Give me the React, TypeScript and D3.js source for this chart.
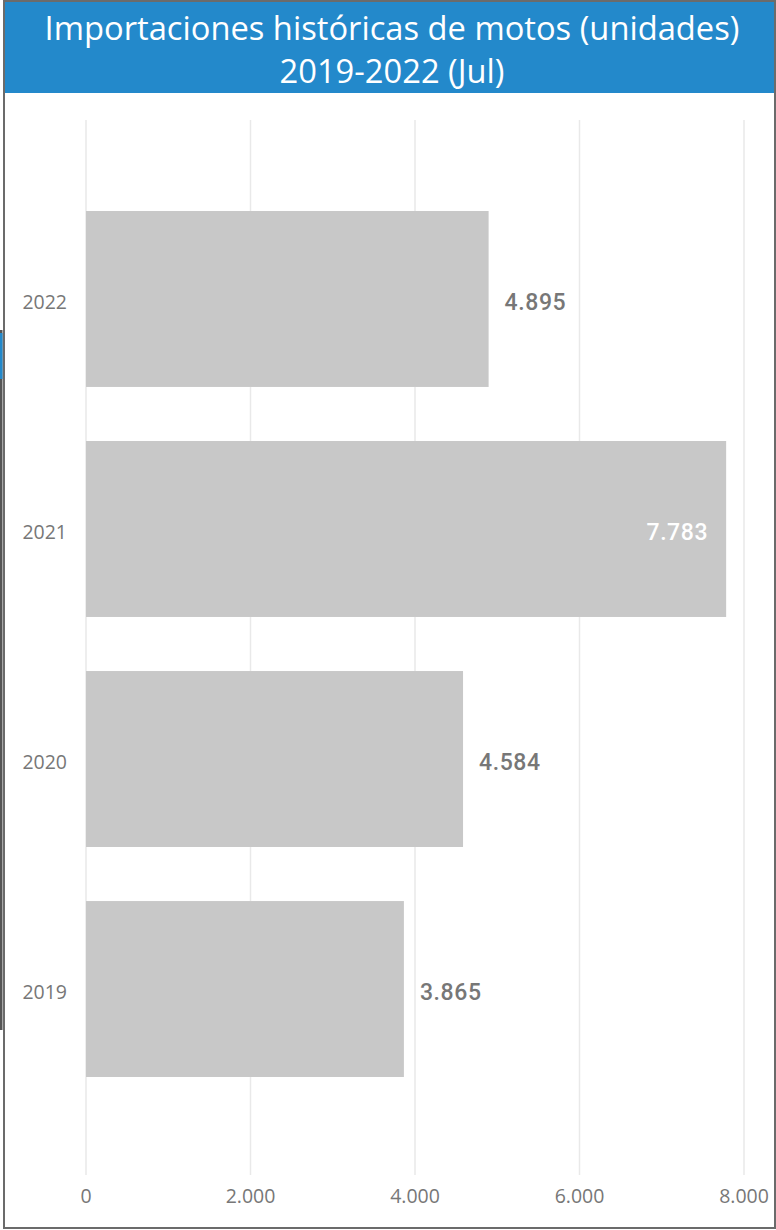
import * as d3 from "d3";
import { useRef, useEffect } from "react";

const years = ["2022", "2021", "2020", "2019"];
const units = [4895, 7783, 4584, 3865];
const xTicks = [0, 2000, 4000, 6000, 8000];
const titleLines = ["Importaciones históricas de motos (unidades)", "2019-2022 (Jul)"];

const fmt = (n: number) => d3.format(",")(n).replace(/,/g, ".");

export default function App() {
  const svgRef = useRef<SVGSVGElement | null>(null);

  useEffect(() => {
    const svg = d3.select(svgRef.current);
    svg.selectAll("*").remove();

    const W = 776;
    const H = 1230;
    const blue = "#2389cb";
    const frame = "#6b6b6b";

    svg.attr("viewBox", `0 0 ${W} ${H}`);

    svg.append("rect").attr("width", W).attr("height", H).attr("fill", "white");

    // header
    svg.append("rect")
      .attr("x", 4).attr("y", 2)
      .attr("width", W - 4).attr("height", 91)
      .attr("fill", blue);

    svg.append("g")
      .attr("text-anchor", "middle")
      .attr("fill", "white")
      .attr("font-family", "'Segoe UI', 'Open Sans', sans-serif")
      .attr("font-weight", 400)
      .attr("font-size", 32.7)
      .selectAll("text")
      .data(titleLines)
      .join("text")
      .attr("x", 392)
      .attr("y", (_, i) => 40 + i * 43)
      .text(d => d);

    // frame
    svg.append("path")
      .attr("d", `M4,1 H775 V1228 H4 Z`)
      .attr("fill", "none")
      .attr("stroke", frame)
      .attr("stroke-width", 2);
    svg.append("rect").attr("x", 0).attr("y", 330).attr("width", 2.5).attr("height", 700).attr("fill", "#555");
    svg.append("rect").attr("x", 0).attr("y", 333).attr("width", 2.5).attr("height", 46).attr("fill", blue);

    const x = d3.scaleLinear().domain([0, 8000]).range([86, 744]);
    const y = d3.scaleBand<string>()
      .domain(years)
      .range([116, 1172])
      .paddingInner(0.235)
      .paddingOuter(0.413);

    // gridlines
    svg.append("g")
      .selectAll("line")
      .data(xTicks)
      .join("line")
      .attr("x1", d => x(d)).attr("x2", d => x(d))
      .attr("y1", 120).attr("y2", 1175)
      .attr("stroke", "#e9e9e9")
      .attr("stroke-width", 1.5);

    svg.append("g")
      .attr("font-family", "'Segoe UI', 'Open Sans', sans-serif")
      .attr("font-size", 19.5)
      .attr("fill", "#777")
      .attr("text-anchor", "middle")
      .selectAll("text")
      .data(xTicks)
      .join("text")
      .attr("x", d => x(d))
      .attr("y", 1203)
      .text(d => fmt(d));

    // year labels
    svg.append("g")
      .attr("font-family", "'Segoe UI', 'Open Sans', sans-serif")
      .attr("font-size", 19.5)
      .attr("fill", "#777")
      .attr("text-anchor", "end")
      .selectAll("text")
      .data(years)
      .join("text")
      .attr("x", 67)
      .attr("y", d => y(d)! + y.bandwidth() / 2 + 10)
      .text(d => d);

    const rows = years.map((yr, i) => ({ yr, v: units[i] }));

    svg.append("g")
      .selectAll("rect")
      .data(rows)
      .join("rect")
      .attr("x", x(0))
      .attr("y", d => y(d.yr)!)
      .attr("width", d => x(d.v) - x(0))
      .attr("height", y.bandwidth())
      .attr("fill", "#c8c8c8");

    // value labels, inside when the bar reaches near the end
    svg.append("g")
      .attr("font-family", "Roboto, 'DejaVu Sans', sans-serif")
      .attr("font-weight", 500)
      .attr("font-size", 23)
      .attr("letter-spacing", 0.6)
      .selectAll("text")
      .data(rows)
      .join("text")
      .attr("x", d => (d.v > 7000 ? x(d.v) - 18 : x(d.v) + 16))
      .attr("y", d => y(d.yr)! + y.bandwidth() / 2 + 11)
      .attr("text-anchor", d => (d.v > 7000 ? "end" : "start"))
      .attr("fill", d => (d.v > 7000 ? "white" : "#777"))
      .text(d => fmt(d.v));
  }, []);

  return (
    <div style={{ position: "absolute", left: 0, top: 0 }}>
      <svg ref={svgRef} width={776} height={1230} style={{ display: "block" }} />
    </div>
  );
}
